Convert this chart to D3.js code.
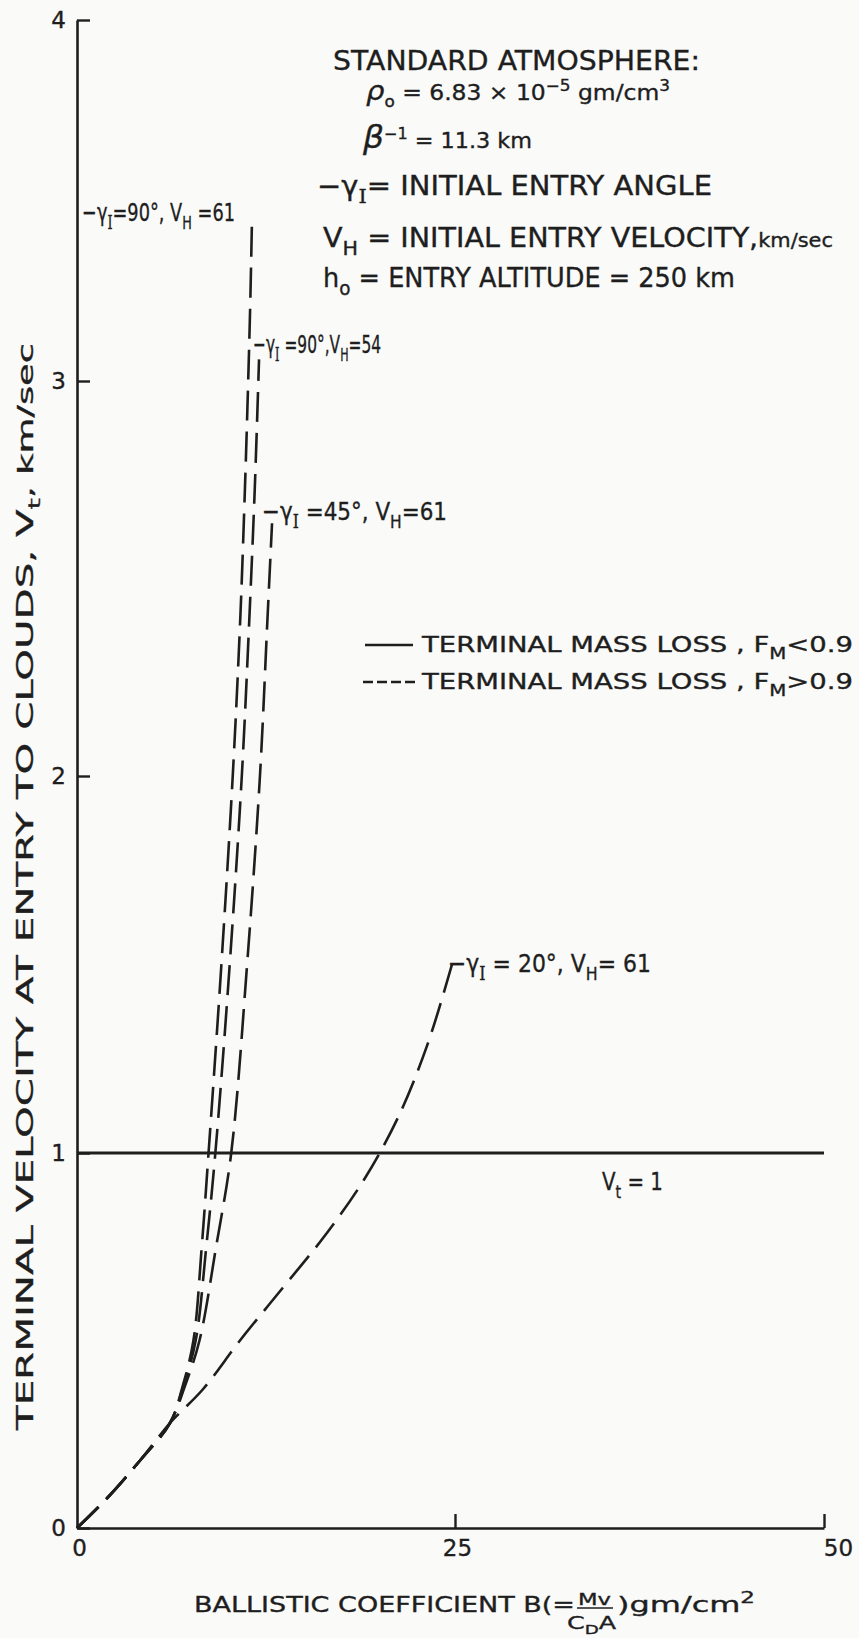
<!DOCTYPE html>
<html>
<head>
<meta charset="utf-8">
<script src="https://cdn.jsdelivr.net/npm/d3@7"></script>
<style>
body{margin:0;background:#fafaf9;}
svg{display:block;}
text{font-family:"DejaVu Sans",sans-serif;fill:#1e1e1e;stroke:#1e1e1e;stroke-width:0.35px;}
</style>
</head>
<body>
<div id="chart"></div>
<script>
// ballistic coefficient B (gm/cm^2) against terminal velocity Vt (km/sec)
const xTicks = [0, 25, 50];
const yTicks = [0, 1, 2, 3, 4];

// all curves leave the origin on the same path
const sharedStart = [[0, 0], [2.0, 0.08], [4.17, 0.18], [6.15, 0.28]];
const g90_v61 = [[7.0, 0.38], [7.7, 0.5], [8.25, 0.75], [8.7, 1.0], [9.55, 1.5], [10.3, 2.0], [10.8, 2.4], [11.1, 2.72], [11.3, 2.97], [11.45, 3.2], [11.57, 3.44]];
const g90_v54 = [[7.05, 0.38], [7.85, 0.5], [8.55, 0.75], [9.15, 1.0], [10.1, 1.5], [10.9, 2.0], [11.4, 2.4], [11.75, 2.72], [11.97, 2.97], [12.04, 3.06]];
const g45_v61 = [[7.15, 0.38], [8.1, 0.5], [9.2, 0.75], [10.2, 1.0], [11.25, 1.5], [12.1, 2.0], [12.6, 2.4], [12.9, 2.64]];
const g20_v61 = [[8.33, 0.37], [10.78, 0.5], [13.6, 0.64], [16.4, 0.78], [19.0, 0.93], [21.3, 1.1], [23.2, 1.29], [24.8, 1.5]];
const vtOne = [[0, 1], [50, 1]];

const W = 859, H = 1638;
const ink = '#1e1e1e';

const svg = d3.select('#chart').append('svg').attr('width', W).attr('height', H);

// hand drawn axes are not quite even, so the scales are piecewise
const x = d3.scaleLinear([0, 25, 50], [77, 455, 824]);
const y = d3.scaleLinear([0, 1, 2, 3, 4], [1528, 1153, 776, 381, 20]);

// rich text helper: parts = [text, 'sub'|'sup'|'', extra attrs]
function richText(parent, x0, y0, size, parts, len){
  const t = parent.append('text').attr('x', x0).attr('y', y0).attr('font-size', size);
  let shift = 0;
  parts.forEach(p => {
    const str = p[0], kind = p[1] || '', extra = p[2] || {};
    const target = kind === 'sub' ? size * 0.32 : kind === 'sup' ? -size * 0.45 : 0;
    const ts = t.append('tspan').text(str).attr('dy', target - shift);
    if (kind) ts.attr('font-size', size * 0.72);
    Object.keys(extra).forEach(k => ts.attr(k, extra[k]));
    shift = target;
  });
  if (len) t.attr('textLength', len).attr('lengthAdjust', 'spacingAndGlyphs');
  return t;
}
const serifI = {'font-family': '"DejaVu Serif",serif'};

//axes
const yAxis = svg.append('g').attr('transform', `translate(${x(0)},0)`)
  .call(d3.axisLeft(y).tickValues(yTicks).tickSizeInner(-13).tickSizeOuter(0).tickPadding(9).tickFormat(d3.format('d')));
yAxis.attr('font-family', null).attr('font-size', 23);
yAxis.select('.domain').attr('stroke', ink).attr('stroke-width', 2.6);
yAxis.selectAll('.tick line').attr('stroke', ink).attr('stroke-width', 2.4);
yAxis.selectAll('.tick text').attr('fill', ink).attr('dx', -2);

const xAxis = svg.append('g').attr('transform', `translate(0,${y(0)})`)
  .call(d3.axisBottom(x).tickValues(xTicks).tickSizeInner(-14).tickSizeOuter(0).tickPadding(12).tickFormat(d3.format('d')));
xAxis.attr('font-family', null).attr('font-size', 23);
xAxis.select('.domain').attr('stroke', ink).attr('stroke-width', 2.6);
xAxis.selectAll('.tick line').attr('stroke', ink).attr('stroke-width', 2.4).attr('opacity', d => d === 0 ? 0 : 1);
xAxis.selectAll('.tick text').attr('fill', ink).attr('dx', d => d === 50 ? 14 : 2);

// lines
const line = d3.line().x(d => x(d[0])).y(d => y(d[1])).curve(d3.curveCatmullRom.alpha(0.5));
const curves = [sharedStart.concat(g20_v61), sharedStart.concat(g45_v61), sharedStart.concat(g90_v54), sharedStart.concat(g90_v61)];
svg.append('g').selectAll('path').data(curves).join('path')
  .attr('d', line).attr('fill', 'none').attr('stroke', ink).attr('stroke-width', 2.6)
  .attr('stroke-dasharray', '30 11');

svg.append('path').attr('d', d3.line().x(d => x(d[0])).y(d => y(d[1]))(vtOne))
  .attr('fill', 'none').attr('stroke', ink).attr('stroke-width', 3.2);

// curve labels
const top61 = g90_v61[g90_v61.length - 1];
const top54 = g90_v54[g90_v54.length - 1];
const top45 = g45_v61[g45_v61.length - 1];
const end20 = g20_v61[g20_v61.length - 1];
richText(svg, x(0) + 5, y(top61[1]) - 1, 25, [['−γ'], ['I', 'sub', serifI], ['=90°, V'], ['H', 'sub'], [' =61']], 153);
richText(svg, x(top54[0]) - 6, y(top54[1]) - 6, 25, [['−γ'], ['I', 'sub', serifI], [' =90°,V'], ['H', 'sub'], ['=54']], 128);
richText(svg, x(top45[0]) - 10, y(top45[1]) - 3, 25, [['−γ'], ['I', 'sub', serifI], [' =45°, V'], ['H', 'sub'], ['=61']], 185);
richText(svg, x(end20[0]) - 4, y(end20[1]) + 7, 25, [['−γ'], ['I', 'sub', serifI], [' = 20°, V'], ['H', 'sub'], ['= 61']], 203);
richText(svg, 602, y(1) + 37, 24, [['V'], ['t', 'sub'], [' = 1']], 61);

// notes block
richText(svg, 333, 70, 26, [['STANDARD  ATMOSPHERE:']], 367);
richText(svg, 366, 100, 21, [['ρ', '', {'font-style': 'italic', 'font-size': 26}], ['o', 'sub'], [' = 6.83 × 10'], ['−5', 'sup'], [' gm/cm'], ['3', 'sup']], 304);
richText(svg, 363, 148, 21, [['β', '', {'font-style': 'italic', 'font-size': 31}], ['−1', 'sup'], [' = 11.3 km']], 169);
richText(svg, 317, 195, 26, [['−γ'], ['I', 'sub', serifI], ['= INITIAL ENTRY ANGLE']], 395);
richText(svg, 323, 247, 26, [['V'], ['H', 'sub'], [' = INITIAL ENTRY VELOCITY,'], ['km/sec', '', {'font-size': 19}]], 510);
richText(svg, 323, 287, 26, [['h'], ['o', 'sub'], ['  = ENTRY ALTITUDE = 250 km']], 412);

// legend
svg.append('line').attr('x1', 365).attr('x2', 413).attr('y1', 645).attr('y2', 645)
  .attr('stroke', ink).attr('stroke-width', 2.4);
svg.append('line').attr('x1', 363).attr('x2', 417).attr('y1', 682).attr('y2', 682)
  .attr('stroke', ink).attr('stroke-width', 2.4).attr('stroke-dasharray', '10 4');
richText(svg, 422, 652, 21, [['TERMINAL  MASS  LOSS , F'], ['M', 'sub'], ['<0.9']], 431);
richText(svg, 422, 689, 21, [['TERMINAL  MASS  LOSS , F'], ['M', 'sub'], ['>0.9']], 431);

// axis titles
richText(svg, 194, 1612, 21, [['BALLISTIC  COEFFICIENT B(=']], 381);
richText(svg, 578, 1605, 16, [['Mv']], 33);
svg.append('line').attr('x1', 577).attr('x2', 613).attr('y1', 1608).attr('y2', 1608)
  .attr('stroke', ink).attr('stroke-width', 1.6);
richText(svg, 567, 1629, 17, [['C'], ['D', 'sub'], ['A']], 49);
richText(svg, 617, 1612, 21, [[')gm/cm'], ['2', 'sup']], 138);

const yTitle = svg.append('g').attr('transform', 'translate(33,1430) rotate(-90)');
richText(yTitle, 0, 0, 23, [['TERMINAL VELOCITY AT ENTRY TO CLOUDS, V'], ['t', 'sub'], [',  km/sec', '', {'font-size': 21}]], 1087);
</script>
</body>
</html>
